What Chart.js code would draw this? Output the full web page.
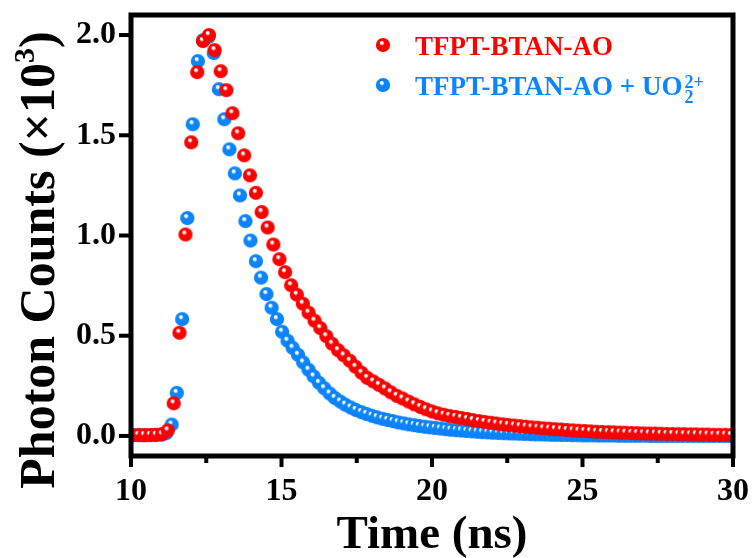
<!DOCTYPE html>
<html>
<head>
<meta charset="utf-8">
<script src="https://cdn.jsdelivr.net/npm/chart.js@4.4.0/dist/chart.umd.min.js"></script>
<style>
  html, body { margin: 0; padding: 0; background: #fff; }
  canvas { display: block; }
</style>
</head>
<body>
<canvas id="myChart" width="755" height="558"></canvas>
<script>
// time axis (ns) and photon counts (x10^3)
const redTimes = [10.05, 10.25, 10.44, 10.64, 10.83, 11.03, 11.22, 11.42, 11.61, 11.81,
  12.00, 12.20, 12.39, 12.59, 12.78, 12.98, 13.17, 13.37, 13.56, 13.76,
  13.95, 14.15, 14.34, 14.54, 14.73, 14.93, 15.12, 15.32, 15.51, 15.71,
  15.90, 16.10, 16.29, 16.49, 16.68, 16.88, 17.07, 17.27, 17.46, 17.66,
  17.85, 18.05, 18.24, 18.44, 18.63, 18.83, 19.02, 19.22, 19.41, 19.61,
  19.80, 20.00, 20.19, 20.39, 20.58, 20.78, 20.97, 21.17, 21.36, 21.56,
  21.75, 21.95, 22.14, 22.34, 22.53, 22.73, 22.92, 23.12, 23.31, 23.51,
  23.70, 23.90, 24.09, 24.29, 24.48, 24.68, 24.87, 25.07, 25.26, 25.46,
  25.65, 25.85, 26.04, 26.24, 26.43, 26.63, 26.82, 27.02, 27.21, 27.41,
  27.60, 27.80, 27.99, 28.19, 28.38, 28.58, 28.77, 28.97, 29.16, 29.36,
  29.55, 29.75, 29.94];
const redCounts = [0.005, 0.005, 0.004, 0.005, 0.006, 0.009, 0.028, 0.163, 0.515, 1.005,
  1.465, 1.815, 1.97, 2.0, 1.925, 1.82, 1.725, 1.61, 1.51, 1.40,
  1.30, 1.213, 1.117, 1.04, 0.955, 0.882, 0.817, 0.752, 0.705, 0.66,
  0.615, 0.575, 0.538, 0.498, 0.46, 0.428, 0.402, 0.375, 0.345, 0.315,
  0.29, 0.272, 0.255, 0.237, 0.218, 0.2, 0.187, 0.172, 0.158, 0.145,
  0.133, 0.122, 0.113, 0.106, 0.1, 0.095, 0.09, 0.085, 0.079, 0.074,
  0.07, 0.066, 0.062, 0.058, 0.055, 0.052, 0.049, 0.046, 0.043, 0.041,
  0.038, 0.036, 0.034, 0.032, 0.03, 0.028, 0.026, 0.025, 0.023, 0.021,
  0.02, 0.019, 0.018, 0.017, 0.016, 0.015, 0.014, 0.013, 0.012, 0.012,
  0.011, 0.01, 0.01, 0.009, 0.009, 0.008, 0.008, 0.007, 0.007, 0.006,
  0.006, 0.006, 0.005];

const blueTimes = [10.12, 10.30, 10.47, 10.65, 10.82, 11.00, 11.17, 11.35, 11.52, 11.70,
  11.87, 12.05, 12.22, 12.40, 12.57, 12.75, 12.92, 13.10, 13.27, 13.45,
  13.62, 13.80, 13.97, 14.15, 14.32, 14.50, 14.67, 14.85, 15.02, 15.20,
  15.37, 15.55, 15.72, 15.90, 16.07, 16.25, 16.42, 16.60, 16.77, 16.95,
  17.12, 17.30, 17.47, 17.65, 17.82, 18.00, 18.17, 18.35, 18.52, 18.70,
  18.87, 19.05, 19.22, 19.40, 19.57, 19.75, 19.92, 20.10, 20.27, 20.45,
  20.62, 20.80, 20.97, 21.15, 21.32, 21.50, 21.67, 21.85, 22.02, 22.20,
  22.37, 22.55, 22.72, 22.90, 23.07, 23.25, 23.42, 23.60, 23.77, 23.95,
  24.12, 24.30, 24.47, 24.65, 24.82, 25.00, 25.17, 25.35, 25.52, 25.70,
  25.87, 26.05, 26.22, 26.40, 26.57, 26.75, 26.92, 27.10, 27.27, 27.45,
  27.62, 27.80, 27.97, 28.15, 28.32, 28.50, 28.67, 28.85, 29.02, 29.20,
  29.37, 29.55, 29.72, 29.90];
const blueCounts = [0.004, 0.004, 0.004, 0.004, 0.005, 0.006, 0.014, 0.057, 0.215, 0.583,
  1.087, 1.555, 1.87, 1.975, 1.99, 1.91, 1.73, 1.58, 1.43, 1.31,
  1.2, 1.072, 0.975, 0.872, 0.79, 0.708, 0.64, 0.583, 0.52, 0.475,
  0.44, 0.405, 0.367, 0.33, 0.297, 0.265, 0.238, 0.212, 0.19, 0.172,
  0.156, 0.142, 0.13, 0.119, 0.11, 0.101, 0.093, 0.086, 0.08, 0.074,
  0.068, 0.063, 0.058, 0.054, 0.05, 0.046, 0.043, 0.04, 0.037, 0.034,
  0.031, 0.029, 0.027, 0.025, 0.023, 0.021, 0.019, 0.018, 0.016, 0.015,
  0.014, 0.013, 0.012, 0.011, 0.01, 0.009, 0.008, 0.008, 0.007, 0.006,
  0.006, 0.005, 0.005, 0.004, 0.004, 0.003, 0.003, 0.003, 0.002, 0.002,
  0.002, 0.002, 0.001, 0.001, 0.001, 0.001, 0.001, 0.001, 0.0, 0.0,
  0.0, 0.0, 0.0, 0.0, 0.0, 0.0, 0.0, 0.0, 0.0, 0.0,
  0.0, 0.0, 0.0, 0.0];

const seriesNames = ['TFPT-BTAN-AO', 'TFPT-BTAN-AO + UO'];
const majorXTicks = [10, 15, 20, 25, 30];
const minorXTicks = [12.5, 17.5, 22.5, 27.5];
const majorYTicks = [0, 0.5, 1.0, 1.5, 2.0];

const FONT = '"Liberation Serif", "Times New Roman", serif';
const RED = '#ff0000';
const BLUE = '#0a84ff';

// shaded ball used as marker
const makeBall = (base, dark) => {
    const c = document.createElement('canvas');
    c.width = 16;
    c.height = 16;
    const g = c.getContext('2d');
    const grad = g.createRadialGradient(6.4, 5.4, 0.2, 8, 8, 7.4);
    grad.addColorStop(0, '#ffffff');
    grad.addColorStop(0.14, '#ffffff');
    grad.addColorStop(0.34, base);
    grad.addColorStop(0.85, base);
    grad.addColorStop(1, dark);
    g.fillStyle = grad;
    g.beginPath();
    g.arc(8, 8, 7.1, 0, Math.PI * 2);
    g.fill();
    return c;
};
const redBall = makeBall(RED, '#d00000');
const blueBall = makeBall(BLUE, '#0068d0');

const toPoints = (xs, ys) => xs.map((t, i) => ({ x: t, y: ys[i] }));

const line = (ctx, x1, y1, x2, y2) => {
    ctx.beginPath();
    ctx.moveTo(x1, y1);
    ctx.lineTo(x2, y2);
    ctx.stroke();
};

const extras = {
    id: 'extras',
    afterDatasetsDraw(chart) {
        const { ctx, chartArea: a, scales: { x, y } } = chart;
        ctx.save();
        ctx.strokeStyle = '#000';
        ctx.lineWidth = 5;
        ctx.strokeRect(a.left, a.top, a.right - a.left, a.bottom - a.top);

        ctx.lineWidth = 4;
        majorXTicks.forEach(v => {
            const px = x.getPixelForValue(v);
            line(ctx, px, a.bottom, px, a.bottom + 11);
        });
        minorXTicks.forEach(v => {
            const px = x.getPixelForValue(v);
            line(ctx, px, a.bottom, px, a.bottom + 7);
        });
        majorYTicks.forEach(v => {
            const py = y.getPixelForValue(v);
            line(ctx, a.left, py, a.left - 12, py);
        });

        // legend
        ctx.drawImage(redBall, 383 - 8, 45 - 8);
        ctx.drawImage(blueBall, 383 - 8, 85 - 8);
        ctx.textBaseline = 'alphabetic';
        ctx.textAlign = 'left';
        ctx.font = 'bold 27px ' + FONT;
        ctx.fillStyle = RED;
        ctx.fillText(seriesNames[0], 415, 55);
        ctx.fillStyle = BLUE;
        ctx.fillText(seriesNames[1], 415, 95);
        const w = ctx.measureText(seriesNames[1]).width;
        ctx.font = 'bold 18px ' + FONT;
        ctx.fillText('2', 415 + w + 2, 103);
        ctx.fillText('2+', 415 + w + 2, 88);

        // y title with superscript
        ctx.fillStyle = '#000';
        ctx.translate(54, 260);
        ctx.rotate(-Math.PI / 2);
        const main = 'Photon Counts (\u00d710';
        ctx.font = 'bold 50px ' + FONT;
        const w1 = ctx.measureText(main).width;
        const wp = ctx.measureText(')').width;
        ctx.font = 'bold 30px ' + FONT;
        const w2 = ctx.measureText('3').width;
        let sx = -(w1 + w2 + wp) / 2;
        ctx.font = 'bold 50px ' + FONT;
        ctx.fillText(main, sx, 0);
        sx += w1;
        ctx.font = 'bold 30px ' + FONT;
        ctx.fillText('3', sx, -20);
        sx += w2;
        ctx.font = 'bold 50px ' + FONT;
        ctx.fillText(')', sx, 0);
        ctx.restore();

        // x title
        ctx.save();
        ctx.font = 'bold 47px ' + FONT;
        ctx.fillStyle = '#000';
        ctx.textAlign = 'center';
        ctx.fillText('Time (ns)', (a.left + a.right) / 2, 548);
        ctx.restore();
    }
};

const myChart = document.getElementById('myChart').getContext('2d');
const grafica = new Chart(myChart, {
    type: 'scatter',
    data: {
        datasets: [{
            label: seriesNames[0],
            data: toPoints(redTimes, redCounts),
            pointStyle: redBall,
            pointRadius: 7,
            clip: 0
        }, {
            label: seriesNames[1],
            data: toPoints(blueTimes, blueCounts),
            pointStyle: blueBall,
            pointRadius: 7,
            clip: 0
        }]
    },
    options: {
        responsive: false,
        animation: false,
        layout: { padding: { left: 0, top: 15, right: 22, bottom: 0 } },
        plugins: {
            legend: { display: false },
            tooltip: { enabled: false }
        },
        scales: {
            x: {
                type: 'linear',
                min: 10,
                max: 30,
                afterFit: s => {
                    s.height = 102;
                    s.paddingLeft = 0;
                    s.paddingRight = 0;
                },
                border: { display: false },
                grid: { display: false, drawTicks: false },
                ticks: {
                    stepSize: 5,
                    padding: 17,
                    color: '#000',
                    font: { family: FONT, size: 32, weight: 'bold' }
                }
            },
            y: {
                type: 'linear',
                min: -0.1,
                max: 2.1,
                afterFit: s => {
                    s.width = 131;
                    s.paddingTop = 0;
                    s.paddingBottom = 0;
                },
                border: { display: false },
                grid: { display: false, drawTicks: false },
                ticks: {
                    stepSize: 0.5,
                    includeBounds: false,
                    padding: 15,
                    color: '#000',
                    font: { family: FONT, size: 32, weight: 'bold' },
                    callback: v => v.toFixed(1)
                }
            }
        }
    },
    plugins: [extras]
});
</script>
</body>
</html>
